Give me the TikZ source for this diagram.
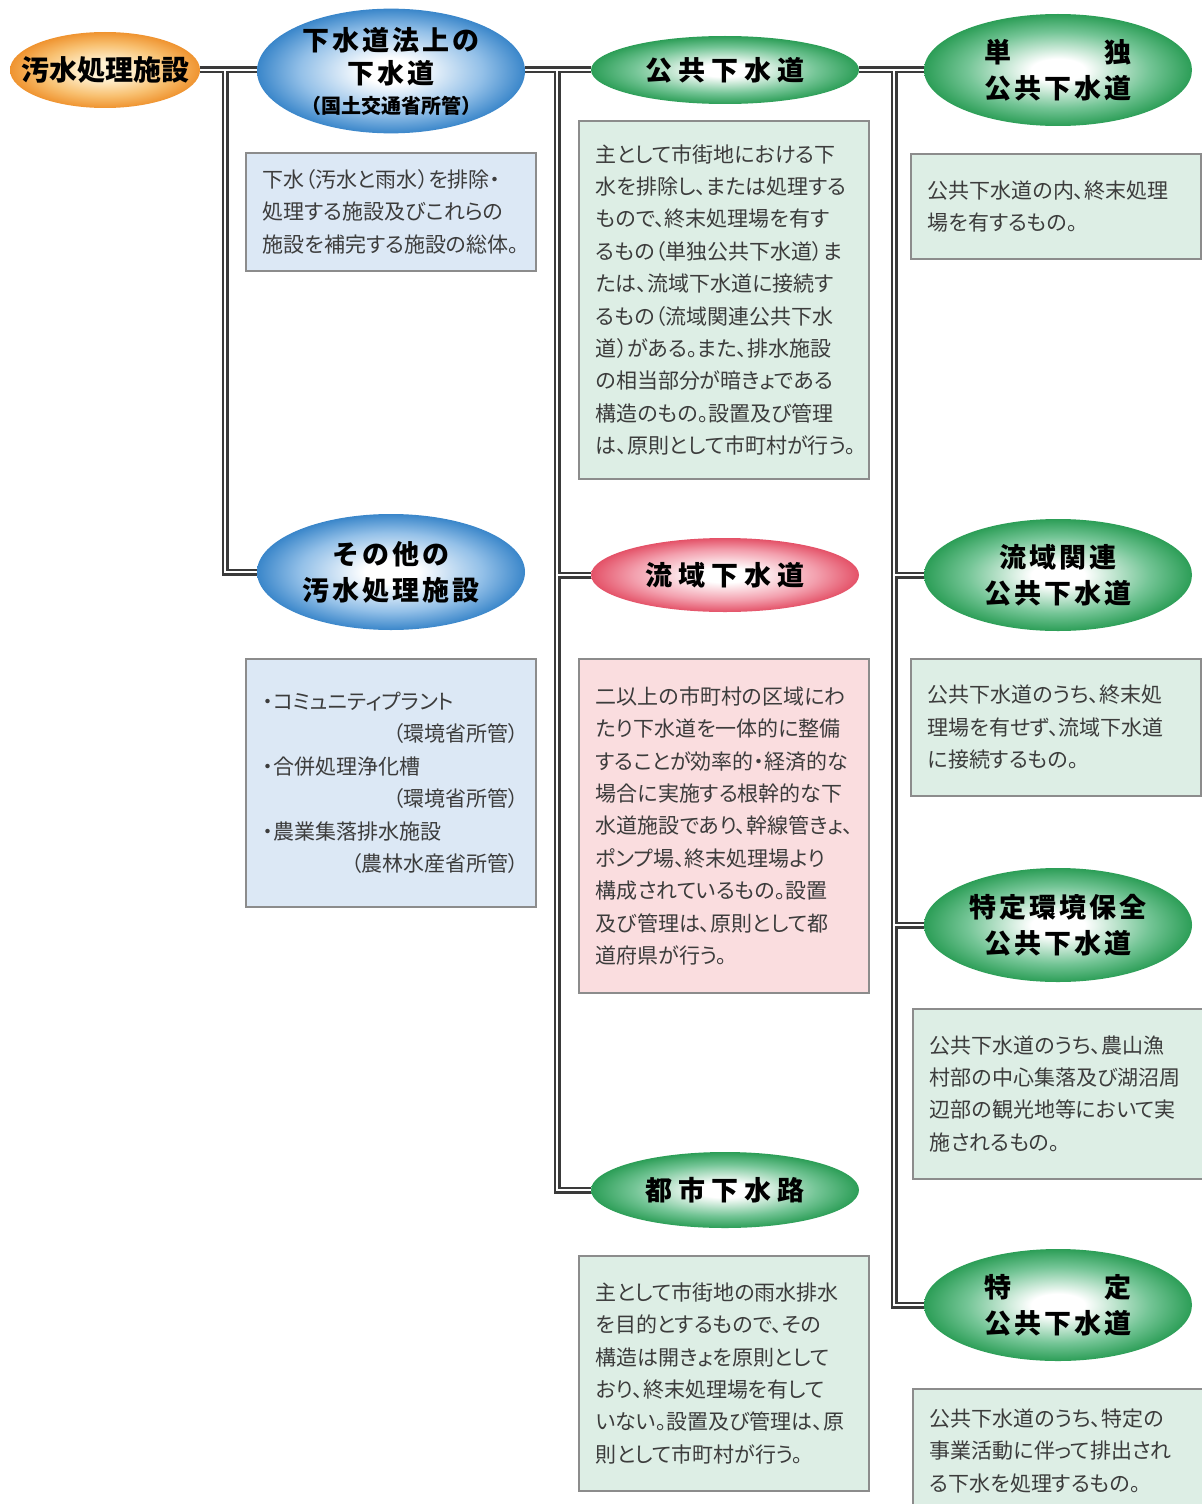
\documentclass[tikz,border=0pt]{standalone}
\usepackage{fontspec}
\setmainfont{Noto Sans CJK JP}
\newfontfamily\jpbody{Noto Sans CJK JP}[RawFeature={+palt}]
\newfontfamily\jptitle{Noto Sans CJK JP}
\usetikzlibrary{shapes.geometric}
\pgfdeclarelayer{bg}
\pgfsetlayers{bg,main}

\definecolor{gMid}{HTML}{74C596}
\definecolor{gEdge}{HTML}{23994F}
\definecolor{gDark}{HTML}{16803E}
\definecolor{bMid}{HTML}{93C0E8}
\definecolor{bEdge}{HTML}{2F7FC6}
\definecolor{bDark}{HTML}{1F63A8}
\definecolor{rMid}{HTML}{F3A0AE}
\definecolor{rEdge}{HTML}{E2485F}
\definecolor{rDark}{HTML}{C8304A}
\definecolor{oIn}{HTML}{FFF1D2}
\definecolor{oMid}{HTML}{F8C070}
\definecolor{oEdge}{HTML}{EE8E28}
\definecolor{oDark}{HTML}{D8731A}
\definecolor{boxBlue}{HTML}{DCE8F5}
\definecolor{boxGreen}{HTML}{DDEEE5}
\definecolor{boxPink}{HTML}{FADDDF}
\definecolor{boxline}{HTML}{8C8C8C}
\definecolor{bodytxt}{HTML}{3C3C3C}
\definecolor{linecol}{HTML}{3A3A3A}

\pgfdeclareradialshading{gshade}{\pgfpoint{0bp}{0bp}}{color(0bp)=(white); color(5bp)=(white); color(17bp)=(gMid); color(26bp)=(gEdge); color(31bp)=(gDark); color(70bp)=(gDark)}
\pgfdeclareradialshading{bshade}{\pgfpoint{0bp}{0bp}}{color(0bp)=(white); color(5bp)=(white); color(17bp)=(bMid); color(26bp)=(bEdge); color(31bp)=(bDark); color(70bp)=(bDark)}
\pgfdeclareradialshading{rshade}{\pgfpoint{0bp}{0bp}}{color(0bp)=(white); color(5bp)=(white); color(17bp)=(rMid); color(26bp)=(rEdge); color(31bp)=(rDark); color(70bp)=(rDark)}
\pgfdeclareradialshading{oshade}{\pgfpoint{0bp}{0bp}}{color(0bp)=(oIn); color(6bp)=(oIn); color(17bp)=(oMid); color(26bp)=(oEdge); color(31bp)=(oDark); color(70bp)=(oDark)}

\newcommand\gapA{\kern1.5pt}
\newcommand\gapB{\kern3pt}
\newcommand\rightpush{\hskip 0pt plus 1filll\relax}

\begin{document}
\begin{tikzpicture}[x=0.5pt,y=-0.5pt,
  oval/.style={ellipse, inner sep=0pt, align=center, text=black,
    font=\jptitle\bfseries\fontsize{13.5pt}{18pt}\selectfont},
  greenoval/.style={oval, shading=gshade},
  blueoval/.style={oval, shading=bshade},
  redoval/.style={oval, shading=rshade},
  box/.style={rectangle, anchor=north west, draw=boxline, line width=0.8pt,
    inner xsep=8.5pt, inner ysep=0pt, text width=128pt, align=left, text=bodytxt,
    font=\jpbody\fontsize{10.5pt}{16.2pt}\selectfont},
  bluebox/.style={box, fill=boxBlue},
  greenbox/.style={box, fill=boxGreen},
  pinkbox/.style={box, fill=boxPink},
  connouter/.style={line width=3.5pt, draw=linecol},
  conninner/.style={line width=1.3pt, draw=white}
]
\useasboundingbox (0,0) rectangle (1202,1504);

% ellipses
\node[oval, shading=oshade, minimum width=95pt, minimum height=38pt,
      font=\jptitle\bfseries\fontsize{14pt}{16pt}\selectfont] (osui) at (105,70) {\makebox[0pt]{汚水処理施設}};
\node[blueoval, minimum width=134pt, minimum height=62pt] (gesui) at (391,71)
  {下\gapA 水\gapA 道\gapA 法\gapA 上\gapA の\\[-1.5pt]下\gapA 水\gapA 道\\[-3pt]{\fontsize{10pt}{12pt}\selectfont （国土交通省所管）}};
\node[blueoval, minimum width=134pt, minimum height=58pt] (sonota) at (391,572)
  {そ\gapA の\gapA 他\gapA の\\汚\gapA 水\gapA 処\gapA 理\gapA 施\gapA 設};
\node[greenoval, minimum width=134pt, minimum height=34pt] (kokyo) at (725,70)
  {公\gapB 共\gapB 下\gapB 水\gapB 道};
\node[redoval, minimum width=134pt, minimum height=37pt] (ryuiki) at (725,575)
  {流\gapB 域\gapB 下\gapB 水\gapB 道};
\node[greenoval, minimum width=134pt, minimum height=38pt] (toshi) at (725,1190)
  {都\gapB 市\gapB 下\gapB 水\gapB 路};
\node[greenoval, minimum width=134pt, minimum height=56pt] (tandoku) at (1058,70)
  {単\hspace{46.5pt}独\\公\gapA 共\gapA 下\gapA 水\gapA 道};
\node[greenoval, minimum width=134pt, minimum height=56pt] (kanren) at (1058,575)
  {流\gapA 域\gapA 関\gapA 連\\公\gapA 共\gapA 下\gapA 水\gapA 道};
\node[greenoval, minimum width=134pt, minimum height=57pt] (tokkan) at (1058,925)
  {特\gapA 定\gapA 環\gapA 境\gapA 保\gapA 全\\公\gapA 共\gapA 下\gapA 水\gapA 道};
\node[greenoval, minimum width=134pt, minimum height=56pt] (tokutei) at (1058,1305)
  {特\hspace{46.5pt}定\\公\gapA 共\gapA 下\gapA 水\gapA 道};

% boxes
\node[bluebox, minimum height=59pt] (bgesui) at (245,152)
  {下水（汚水と雨水）を排除・\\処理する施設及びこれらの\\施設を補完する施設の総体。};
\node[bluebox, minimum height=124pt] (bsonota) at (245,658)
  {・コミュニティプラント\\\rightpush（環境省所管）\\・合併処理浄化槽\\\rightpush（環境省所管）\\・農業集落排水施設\\\rightpush（農林水産省所管）};
\node[greenbox, minimum height=179pt] (bkokyo) at (578,120)
  {主として市街地における下\\水を排除し、または処理する\\もので、終末処理場を有す\\るもの（単独公共下水道）ま\\たは、流域下水道に接続す\\るもの（流域関連公共下水\\道）がある。また、排水施設\\の相当部分が暗きょである\\構造のもの。設置及び管理\\は、原則として市町村が行う。};
\node[pinkbox, minimum height=167pt] (bryuiki) at (578,658)
  {二以上の市町村の区域にわ\\たり下水道を一体的に整備\\することが効率的・経済的な\\場合に実施する根幹的な下\\水道施設であり、幹線管きょ、\\ポンプ場、終末処理場より\\構成されているもの。設置\\及び管理は、原則として都\\道府県が行う。};
\node[greenbox, minimum height=117.5pt] (btoshi) at (578,1255)
  {主として市街地の雨水排水\\を目的とするもので、その\\構造は開きょを原則として\\おり、終末処理場を有して\\いない。設置及び管理は、原\\則として市町村が行う。};
\node[greenbox, minimum height=52.5pt] (btandoku) at (910,153)
  {公共下水道の内、終末処理\\場を有するもの。};
\node[greenbox, minimum height=68.5pt] (bkanren) at (910,658)
  {公共下水道のうち、終末処\\理場を有せず、流域下水道\\に接続するもの。};
\node[greenbox, minimum height=85pt] (btokkan) at (912,1008)
  {公共下水道のうち、農山漁\\村部の中心集落及び湖沼周\\辺部の観光地等において実\\施されるもの。};
\node[greenbox, minimum height=62pt] (btokutei) at (912,1388)
  {公共下水道のうち、特定の\\事業活動に伴って排出され\\る下水を処理するもの。};

% connectors
\coordinate (j1) at (225,70);
\coordinate (j2) at (557,70);
\coordinate (j3) at (894,70);
\newcommand\connpath{(osui.east) -- (gesui.west |- osui.east) (j1) |- (sonota.west)
  (gesui.east |- j2) -- (kokyo.west) (j2) |- (ryuiki.west) (j2) |- (toshi.west)
  (kokyo.east) -- (tandoku.west) (j3) |- (kanren.west) (j3) |- (tokkan.west) (j3) |- (tokutei.west)}
\begin{pgfonlayer}{bg}
\fill[white] (0,0) rectangle (1202,1504);
\draw[connouter] \connpath;
\draw[conninner] \connpath;
\end{pgfonlayer}
\end{tikzpicture}
\end{document}
